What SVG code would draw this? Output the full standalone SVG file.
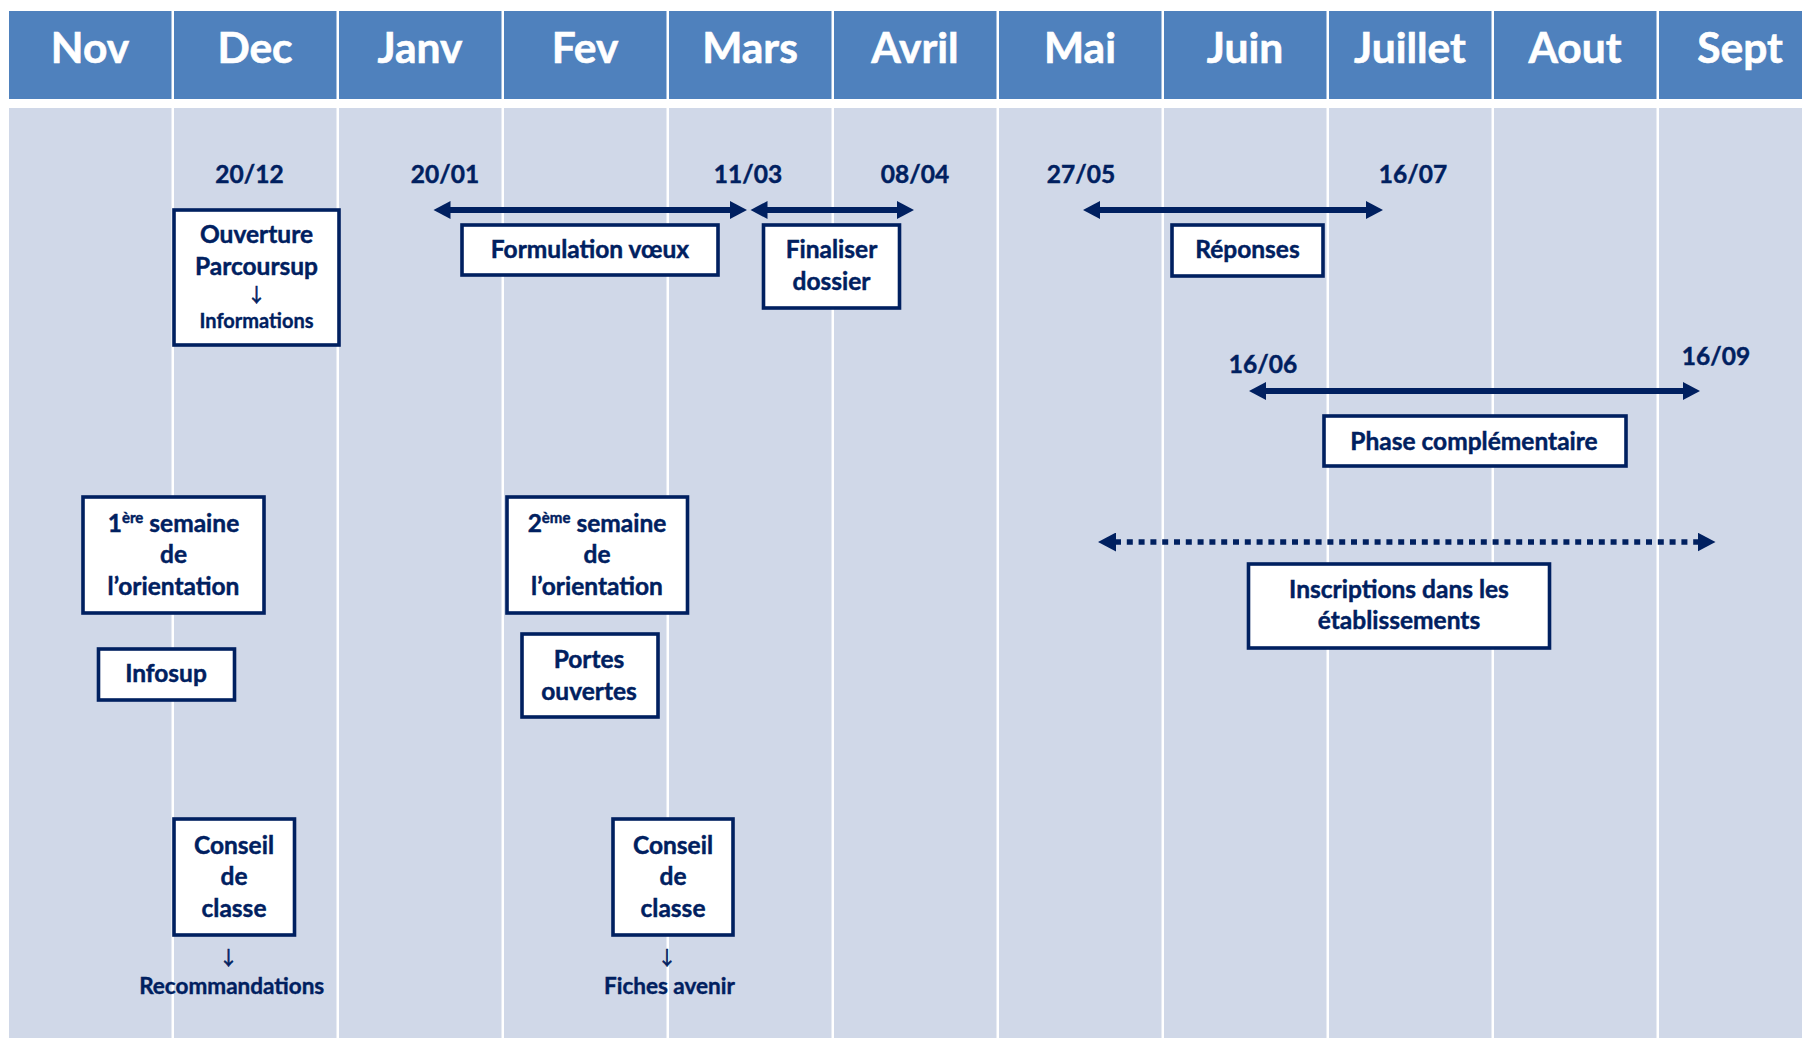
<svg xmlns="http://www.w3.org/2000/svg" width="1802" height="1038" viewBox="0 0 1802 1038">
<style>
.hd{fill:#4F81BD}
.bd{fill:#D0D8E8}
.ht{font-family:Lato,"Liberation Sans",sans-serif;font-weight:bold;font-size:42.5px;fill:#FFFFFF;stroke:#FFFFFF;stroke-width:0.6;text-anchor:middle}
.t{font-family:Lato,"Liberation Sans",sans-serif;font-weight:bold;font-size:24.5px;fill:#002060;stroke:#002060;stroke-width:0.45;text-anchor:middle}
.s{font-family:Lato,"Liberation Sans",sans-serif;font-weight:bold;font-size:20px;fill:#002060;stroke:#002060;stroke-width:0.35;text-anchor:middle}
.m{font-family:Lato,"Liberation Sans",sans-serif;font-weight:bold;font-size:22.5px;fill:#002060;stroke:#002060;stroke-width:0.4;text-anchor:middle}
.ar{font-family:"Noto Sans CJK JP","DejaVu Sans",sans-serif;font-size:19px;fill:#002060;stroke:#002060;stroke-width:0.6;text-anchor:middle}
.box{fill:#FFFFFF;stroke:#002060;stroke-width:3.6}
.ln{stroke:#002060;stroke-width:6;fill:none}
.dl{stroke:#002060;stroke-width:5.5;fill:none;stroke-dasharray:6 5.8}
</style>
<defs>
<marker id="ah" markerUnits="userSpaceOnUse" markerWidth="18" markerHeight="18" refX="1" refY="9" orient="auto-start-reverse" viewBox="0 0 18 18">
<path d="M0,0 L17,9 L0,18 z" fill="#002060"/>
</marker>
<marker id="ahd" markerUnits="userSpaceOnUse" markerWidth="19" markerHeight="19" refX="1" refY="9.5" orient="auto-start-reverse" viewBox="0 0 19 19">
<path d="M0,0 L18,9.5 L0,19 z" fill="#002060"/>
</marker>
</defs>
<rect x="0" y="0" width="1802" height="1038" fill="#FFFFFF"/>
<g id="grid">
<rect class="hd" x="9" y="11" width="162.5" height="88"/>
<rect class="hd" x="174" y="11" width="162.5" height="88"/>
<rect class="hd" x="339" y="11" width="162.5" height="88"/>
<rect class="hd" x="504" y="11" width="162.5" height="88"/>
<rect class="hd" x="669" y="11" width="162.5" height="88"/>
<rect class="hd" x="834" y="11" width="162.5" height="88"/>
<rect class="hd" x="999" y="11" width="162.5" height="88"/>
<rect class="hd" x="1164" y="11" width="162.5" height="88"/>
<rect class="hd" x="1329" y="11" width="162.5" height="88"/>
<rect class="hd" x="1494" y="11" width="162.5" height="88"/>
<rect class="hd" x="1659" y="11" width="162.5" height="88"/>
<rect class="bd" x="9" y="108" width="162.5" height="930"/>
<rect class="bd" x="174" y="108" width="162.5" height="930"/>
<rect class="bd" x="339" y="108" width="162.5" height="930"/>
<rect class="bd" x="504" y="108" width="162.5" height="930"/>
<rect class="bd" x="669" y="108" width="162.5" height="930"/>
<rect class="bd" x="834" y="108" width="162.5" height="930"/>
<rect class="bd" x="999" y="108" width="162.5" height="930"/>
<rect class="bd" x="1164" y="108" width="162.5" height="930"/>
<rect class="bd" x="1329" y="108" width="162.5" height="930"/>
<rect class="bd" x="1494" y="108" width="162.5" height="930"/>
<rect class="bd" x="1659" y="108" width="162.5" height="930"/>
<text class="ht" x="90" y="63">Nov</text>
<text class="ht" x="255" y="63">Dec</text>
<text class="ht" x="420" y="63">Janv</text>
<text class="ht" x="585" y="63">Fev</text>
<text class="ht" x="750" y="63">Mars</text>
<text class="ht" x="915" y="63">Avril</text>
<text class="ht" x="1080" y="63">Mai</text>
<text class="ht" x="1245" y="63">Juin</text>
<text class="ht" x="1410" y="63">Juillet</text>
<text class="ht" x="1575" y="63">Aout</text>
<text class="ht" x="1740" y="63">Sept</text>
</g>
<g id="dates">
<text class="t" x="249.5" y="183">20/12</text>
<text class="t" x="445" y="183">20/01</text>
<text class="t" x="748" y="183">11/03</text>
<text class="t" x="915" y="183">08/04</text>
<text class="t" x="1081" y="183">27/05</text>
<text class="t" x="1413" y="183">16/07</text>
<text class="t" x="1263" y="373">16/06</text>
<text class="t" x="1716" y="365">16/09</text>
</g>
<g id="connectors">
<line class="ln" x1="449.5" y1="210" x2="731" y2="210" marker-start="url(#ah)" marker-end="url(#ah)"/>
<line class="ln" x1="766.5" y1="210" x2="898" y2="210" marker-start="url(#ah)" marker-end="url(#ah)"/>
<line class="ln" x1="1099" y1="210" x2="1367" y2="210" marker-start="url(#ah)" marker-end="url(#ah)"/>
<line class="ln" x1="1265" y1="391" x2="1684" y2="391" marker-start="url(#ah)" marker-end="url(#ah)"/>
<line class="dl" x1="1115" y1="542" x2="1698.5" y2="542" marker-start="url(#ahd)" marker-end="url(#ahd)"/>
</g>
<g id="ouverture">
<rect class="box" x="174" y="210" width="165" height="135"/>
<text class="t" x="256.5" y="243">Ouverture</text>
<text class="t" x="256.5" y="275">Parcoursup</text>
<text class="ar" x="256.5" y="302">↓</text>
<text class="s" x="256.5" y="328">Informations</text>
</g>
<g id="formulation">
<rect class="box" x="462" y="225" width="256" height="50"/>
<text class="t" x="590" y="258">Formulation vœux</text>
</g>
<g id="finaliser">
<rect class="box" x="763.5" y="225" width="136" height="83"/>
<text class="t" x="831.5" y="258">Finaliser</text>
<text class="t" x="831.5" y="290">dossier</text>
</g>
<g id="reponses">
<rect class="box" x="1172" y="225" width="151" height="51"/>
<text class="t" x="1247.5" y="258">Réponses</text>
</g>
<g id="phase">
<rect class="box" x="1324" y="416" width="302" height="50"/>
<text class="t" x="1474" y="450">Phase complémentaire</text>
</g>
<g id="semaine1">
<rect class="box" x="83" y="497" width="181" height="116"/>
<text class="t" x="173.5" y="532">1<tspan font-size="15" dy="-9">ère</tspan><tspan dy="9"> semaine</tspan></text>
<text class="t" x="173.5" y="563">de</text>
<text class="t" x="173.5" y="595">l’orientation</text>
</g>
<g id="infosup">
<rect class="box" x="98.5" y="649" width="136" height="51"/>
<text class="t" x="166" y="682">Infosup</text>
</g>
<g id="semaine2">
<rect class="box" x="507" y="497" width="180.5" height="116"/>
<text class="t" x="597" y="532">2<tspan font-size="15" dy="-9">ème</tspan><tspan dy="9"> semaine</tspan></text>
<text class="t" x="597" y="563">de</text>
<text class="t" x="597" y="595">l’orientation</text>
</g>
<g id="portes">
<rect class="box" x="522" y="634" width="136" height="83"/>
<text class="t" x="589" y="668">Portes</text>
<text class="t" x="589" y="700">ouvertes</text>
</g>
<g id="inscriptions">
<rect class="box" x="1248.5" y="564" width="301" height="84"/>
<text class="t" x="1399" y="598">Inscriptions dans les</text>
<text class="t" x="1399" y="629">établissements</text>
</g>
<g id="conseil1">
<rect class="box" x="174" y="819" width="120.5" height="116"/>
<text class="t" x="234" y="854">Conseil</text>
<text class="t" x="234" y="885">de</text>
<text class="t" x="234" y="917">classe</text>
<text class="ar" x="228.6" y="965">↓</text>
<text class="m" x="231.7" y="994">Recommandations</text>
</g>
<g id="conseil2">
<rect class="box" x="613" y="819" width="120" height="116"/>
<text class="t" x="673" y="854">Conseil</text>
<text class="t" x="673" y="885">de</text>
<text class="t" x="673" y="917">classe</text>
<text class="ar" x="667" y="965">↓</text>
<text class="m" x="669.4" y="994">Fiches avenir</text>
</g>
</svg>
